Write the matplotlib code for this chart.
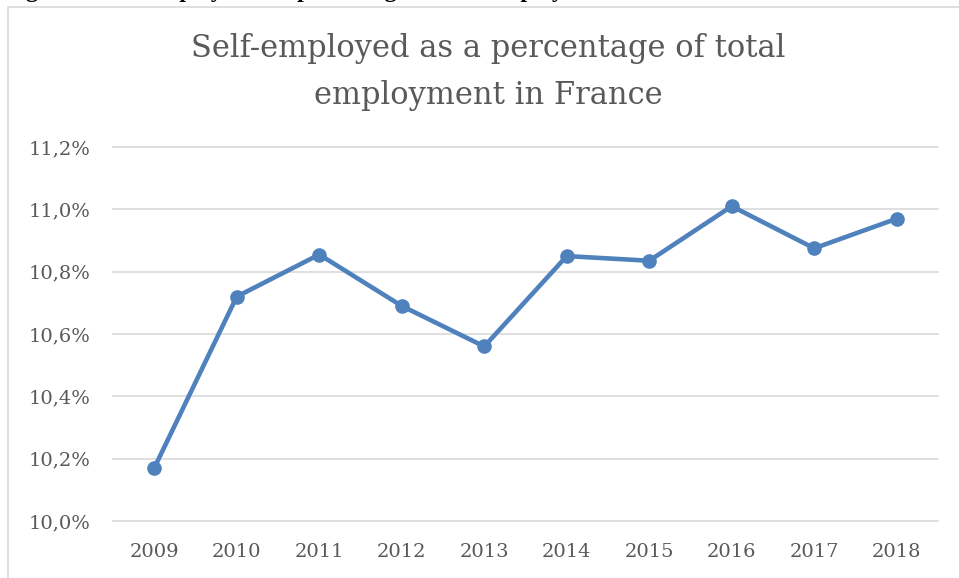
import matplotlib.pyplot as plt
from matplotlib.patches import Rectangle
from matplotlib.ticker import FuncFormatter

# data
years = ["2009", "2010", "2011", "2012", "2013", "2014", "2015", "2016", "2017", "2018"]
self_employed_pct = [10.17, 10.72, 10.855, 10.69, 10.56, 10.85, 10.835, 11.01, 10.875, 10.97]
y_ticks = [10.0, 10.2, 10.4, 10.6, 10.8, 11.0, 11.2]

TEXT_GREY = "#595959"
LINE_BLUE = "#4F81BD"
SERIF = ["DejaVu Serif"]

fig = plt.figure(figsize=(9.59, 5.78), dpi=100)

# chart frame (light grey border, runs off right/bottom edges)
fig.patches.append(Rectangle((8 / 959, -0.05), 1.2, 1 - 7 / 578 + 0.05,
                             transform=fig.transFigure, fill=False,
                             edgecolor="#D9D9D9", linewidth=1.2))

# caption of the document, mostly cut off by the top edge
fig.text(0.005, 1 + 3 / 578, "Figure 1: Self-employed as a percentage of total employment in France",
         family=["Liberation Serif"], fontweight="bold", fontsize=17, va="baseline",
         ha="left", color="black")

ax = fig.add_axes([113 / 959, (578 - 521) / 578, (938 - 113) / 959, (521 - 147) / 578])

x = range(len(years))
ax.plot(x, self_employed_pct, color=LINE_BLUE, linewidth=3.3, marker="o",
        markersize=9.5, solid_capstyle="round", zorder=3, clip_on=False)

ax.set_xlim(-0.5, len(years) - 0.5)
ax.set_ylim(10.0, 11.2)
ax.set_xticks(list(x))
ax.set_xticklabels(years)
ax.set_yticks(y_ticks)
ax.yaxis.set_major_formatter(FuncFormatter(lambda v, p: f"{v:.1f}%".replace(".", ",")))

for lbl in ax.get_xticklabels() + ax.get_yticklabels():
    lbl.set_family(SERIF)
    lbl.set_fontsize(14)
    lbl.set_color(TEXT_GREY)

ax.tick_params(axis="both", length=0)
ax.tick_params(axis="y", pad=16.5)
ax.tick_params(axis="x", pad=16)
ax.grid(axis="y", color="#D9D9D9", linewidth=1.2)
for gl in ax.get_ygridlines():
    gl.set_clip_on(False)
ax.set_axisbelow(True)
for s in ax.spines.values():
    s.set_visible(False)

fig.text(488 / 959, 1 - 72 / 578, "Self-employed as a percentage of total\nemployment in France",
         family=SERIF, fontsize=22, color=TEXT_GREY, ha="center", va="center",
         linespacing=1.65)

fig.savefig("out.png", dpi=100)
